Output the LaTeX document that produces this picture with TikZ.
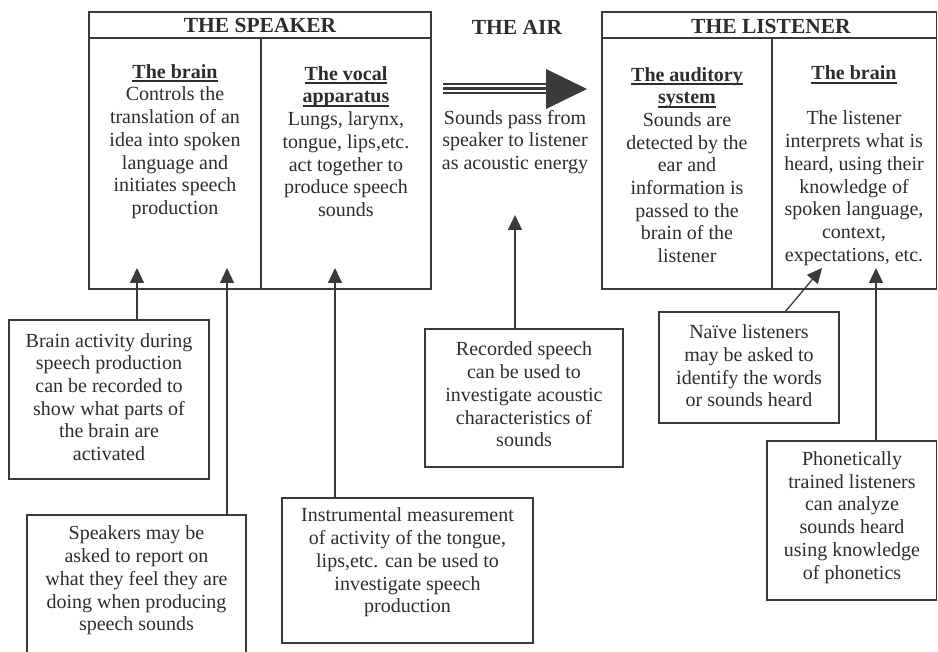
\documentclass[tikz,border=0pt]{standalone}
\usepackage{fontspec}
\setmainfont{Liberation Serif}
\usetikzlibrary{arrows.meta}
\definecolor{ink}{RGB}{58,58,58}
\definecolor{txtc}{RGB}{45,45,45}
\tikzset{
  bx/.style={draw=ink, line width=1.3pt, inner sep=0pt, outer sep=0pt, anchor=north west},
  bline/.style={draw=ink, line width=1.3pt},
  txt/.style={text=txtc, align=center, inner sep=0pt, font=\fontsize{20}{22.7}\selectfont},
  hdr/.style={text=txtc, inner sep=0pt, font=\fontsize{21.5}{24}\selectfont\bfseries},
  arr/.style={draw=ink, line width=1.3pt, -{Triangle[length=15pt,width=14pt]}},
  stripe/.style={draw=ink, line width=2.2pt}
}
\newcommand{\sub}[1]{\setbox0\hbox{\textbf{#1}}\rlap{\rule[-4pt]{\wd0}{1.8pt}}\box0}
\begin{document}
\begin{tikzpicture}[x=1pt,y=-1pt]
\clip (0,0) rectangle (938,652);
\fill[white] (0,0) rectangle (938,652);

% main boxes
\node[bx, minimum width=342pt, minimum height=277pt] (spk) at (89,12) {};
\node[bx, minimum width=334.5pt, minimum height=277pt] (lis) at (602,12) {};
\draw[bline] (spk.west |- 0,38) -- (spk.east |- 0,38);
\draw[bline] (spk.south -| 261,0) -- (261,38);
\draw[bline] (lis.west |- 0,38) -- (lis.east |- 0,38);
\draw[bline] (lis.south -| 772,0) -- (772,38);

\node[hdr] (hspk) at (260,25) {THE SPEAKER};
\node[hdr] (hair) at (517,27) {THE AIR};
\node[hdr] (hlis) at (771,26) {THE LISTENER};

\node[txt] (sbrain) at (175,141.5) {\sub{The brain}\\Controls the\\translation of an\\idea into spoken\\language and\\initiates speech\\production};
\node[txt] (vocal) at (346,141.5) {\sub{The vocal}\\\sub{apparatus}\\Lungs, larynx,\\tongue, lips,etc.\\act together to\\produce speech\\sounds};
\node[txt] (airtxt) at (515,142) {Sounds pass from\\speaker to listener\\as acoustic energy};
\node[txt] (audit) at (687,165) {\sub{The auditory}\\\sub{system}\\Sounds are\\detected by the\\ear and\\information is\\passed to the\\brain of the\\listener};
\node[txt] (lbrain) at (854,165.5) {\sub{The brain}\\[22.7pt]The listener\\interprets what is\\heard, using their\\knowledge of\\spoken language,\\context,\\expectations, etc.};

% air arrow
\draw[stripe] (443,84.3) -- (548,84.3);
\draw[stripe] (443,88.5) -- (548,88.5);
\draw[stripe] (443,92.7) -- (548,92.7);
\coordinate (ah1) at (546,69);
\coordinate (ah2) at (587,89);
\coordinate (ah3) at (546,109);
\fill[ink] (ah1) -- (ah2) -- (ah3) -- cycle;

% lower boxes
\node[bx, minimum width=200pt, minimum height=159pt] (bact) at (9,320) {};
\node[txt] (bacttxt) at (109,397) {Brain activity during\\speech production\\can be recorded to\\show what parts of\\the brain are\\activated};

\node[bx, minimum width=219pt, minimum height=160pt] (spks) at (27,515) {};
\node[txt] (spkstxt) at (136.5,580.5) {Speakers may be\\asked to report on\\what they feel they are\\doing when producing\\speech sounds};

\node[bx, minimum width=251pt, minimum height=145pt] (instr) at (282,498) {};
\node[txt] (instrtxt) at (407.5,562.5) {Instrumental measurement\\of activity of the tongue,\\lips,etc. can be used to\\investigate speech\\production};

\node[bx, minimum width=198pt, minimum height=138pt] (rec) at (425,329) {};
\node[txt] (rectxt) at (524,394.5) {Recorded speech\\can be used to\\investigate acoustic\\characteristics of\\sounds};

\node[bx, minimum width=180pt, minimum height=111pt] (naive) at (659,312) {};
\node[txt] (naivetxt) at (749,366) {Naïve listeners\\may be asked to\\identify the words\\or sounds heard};

\node[bx, minimum width=169.5pt, minimum height=159pt] (phon) at (767,441) {};
\node[txt] (phontxt) at (852,517.5) {Phonetically\\trained listeners\\can analyze\\sounds heard\\using knowledge\\of phonetics};

% arrow tips
\coordinate (t1) at (137,268);
\coordinate (t2) at (227,268);
\coordinate (t3) at (335,268);
\coordinate (t4) at (515,215);
\coordinate (t5) at (822,268);
\coordinate (t6) at (876,268);
\coordinate (n0) at (785,312);

\draw[arr] (bact.north -| t1) -- (t1);
\draw[arr] (spks.north -| t2) -- (t2);
\draw[arr] (instr.north -| t3) -- (t3);
\draw[arr] (rec.north -| t4) -- (t4);
\draw[arr] (n0) -- (t5);
\draw[arr] (phon.north -| t6) -- (t6);
\end{tikzpicture}
\end{document}
